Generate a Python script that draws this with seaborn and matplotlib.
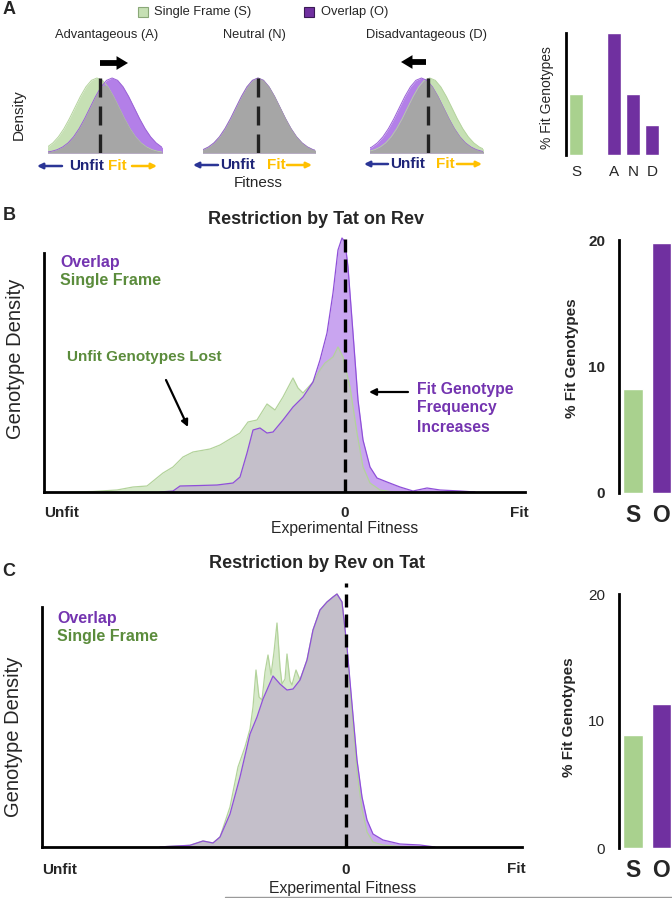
import numpy as np
import matplotlib
matplotlib.use("Agg")
import matplotlib.pyplot as plt
from matplotlib.patches import FancyArrowPatch, Rectangle
from matplotlib.lines import Line2D
import seaborn as sns

# ---------------- data ----------------
# panel A: schematic bell curve, height vs offset (sd units)
bell_x = [-3.0, -2.75, -2.5, -2.25, -2.0, -1.75, -1.5, -1.25, -1.0, -0.75, -0.5, -0.25,
          0.0, 0.25, 0.5, 0.75, 1.0, 1.25, 1.5, 1.75, 2.0, 2.25, 2.5, 2.75, 3.0]
bell_y = [0.011, 0.023, 0.044, 0.080, 0.135, 0.216, 0.325, 0.458, 0.607, 0.755, 0.882, 0.969,
          1.0, 0.969, 0.882, 0.755, 0.607, 0.458, 0.325, 0.216, 0.135, 0.080, 0.044, 0.023, 0.011]
schem_titles = ["Advantageous (A)", "Neutral (N)", "Disadvantageous (D)"]
schem_single_shift = [-0.14, 0.0, 0.08]
schem_overlap_shift = [0.55, 0.0, -0.3]

fit_a_labels = ["S", "A", "N", "D"]
fit_a_vals = [10, 20, 10, 5]

# panel B: Restriction by Tat on Rev (experimental fitness vs density)
b_single_x = [-2.75, -2.52, -2.28, -2.12, -1.98, -1.82, -1.72, -1.62, -1.52, -1.35, -1.25,
              -1.15, -1.05, -0.97, -0.88, -0.78, -0.70, -0.62, -0.52, -0.47, -0.42, -0.32,
              -0.25, -0.20, -0.12, -0.07, -0.02, 0.05, 0.12, 0.18, 0.25, 0.35, 0.45, 0.55]
b_single_y = [0, 0.005, 0.02, 0.05, 0.06, 0.19, 0.25, 0.35, 0.40, 0.43, 0.47,
              0.53, 0.59, 0.70, 0.72, 0.88, 0.82, 0.95, 1.14, 1.04, 0.99, 1.10,
              1.22, 1.29, 1.35, 1.45, 1.35, 1.05, 0.59, 0.25, 0.09, 0.02, 0.005, 0]
b_overlap_x = [-1.85, -1.72, -1.65, -1.45, -1.28, -1.12, -1.05, -0.98, -0.92, -0.85, -0.78,
               -0.72, -0.62, -0.52, -0.42, -0.32, -0.25, -0.18, -0.12, -0.07, -0.03, 0.0,
               0.03, 0.08, 0.13, 0.18, 0.25, 0.32, 0.42, 0.55, 0.68, 0.82, 0.95, 1.15, 1.30]
b_overlap_y = [0, 0.01, 0.06, 0.065, 0.07, 0.09, 0.15, 0.39, 0.62, 0.64, 0.59,
               0.60, 0.72, 0.85, 0.95, 1.10, 1.32, 1.59, 1.99, 2.42, 2.54, 2.50,
               2.25, 1.59, 0.92, 0.52, 0.25, 0.14, 0.10, 0.05, 0.01, 0.04, 0.02, 0.01, 0]
b_bar_labels = ["S", "O"]
b_bar_vals = [8.2, 19.8]

# panel C: Restriction by Rev on Tat
c_single_x = [-1.86, -1.79, -1.56, -1.43, -1.33, -1.26, -1.16, -1.08, -1.01, -0.96, -0.93,
              -0.90, -0.87, -0.84, -0.81, -0.78, -0.75, -0.72, -0.69, -0.66, -0.64, -0.61,
              -0.59, -0.56, -0.54, -0.50, -0.46, -0.39, -0.33, -0.26, -0.19, -0.13, -0.09,
              -0.04, 0.01, 0.06, 0.11, 0.16, 0.21, 0.27, 0.37, 0.54, 0.74]
c_single_y = [0, 0.005, 0.017, 0.06, 0.04, 0.10, 0.40, 0.80, 1.00, 1.18, 1.40,
              1.77, 1.50, 1.47, 1.75, 1.92, 1.72, 1.95, 2.24, 1.80, 1.63, 1.68,
              1.93, 1.66, 1.62, 1.77, 1.67, 1.87, 2.17, 2.37, 2.45, 2.50, 2.53,
              2.45, 1.95, 1.35, 0.75, 0.38, 0.15, 0.05, 0.02, 0.005, 0]
c_overlap_x = [-1.86, -1.79, -1.56, -1.43, -1.33, -1.26, -1.16, -1.06, -0.96, -0.89, -0.83,
               -0.73, -0.66, -0.59, -0.53, -0.46, -0.39, -0.33, -0.26, -0.19, -0.13, -0.09,
               -0.04, 0.01, 0.06, 0.11, 0.16, 0.21, 0.27, 0.37, 0.54, 0.74, 0.89]
c_overlap_y = [0, 0.005, 0.017, 0.06, 0.04, 0.10, 0.33, 0.70, 1.13, 1.30, 1.48,
               1.71, 1.63, 1.57, 1.58, 1.67, 1.87, 2.17, 2.37, 2.45, 2.50, 2.53,
               2.45, 2.00, 1.43, 0.87, 0.50, 0.27, 0.13, 0.07, 0.03, 0.02, 0]
c_bar_labels = ["S", "O"]
c_bar_vals = [8.9, 11.3]

# ---------------- style ----------------
GREEN_BAR = "#a9d18e"
PURPLE_BAR = "#7030a0"
A_PAL = ["#c6e0b4", "#b37fe8", "#a6a6a6", "#b5d49e", "#9a62d6"]
BC_PAL = ["#d6e9ca", "#c9a5f0", "#c4bfca", "#b3d39b", "#8f4fd9"]
OVERLAP_TXT = "#7434b0"
SINGLE_TXT = "#5b8c3c"
UNFIT_BLUE = "#1f2578"
ARROW_BLUE = "#2b3596"
FIT_YELLOW = "#ffc000"

sns.set_style("white")
plt.rcParams["font.family"] = ["Liberation Sans", "DejaVu Sans"]

W, H = 672, 898
fig = plt.figure(figsize=(W / 100, H / 100), dpi=100)


def px_axes(l, t, r, b):
    return fig.add_axes([l / W, 1 - b / H, (r - l) / W, (b - t) / H])


def ftext(x, y, s, **kw):
    kw.setdefault("va", "center")
    kw.setdefault("ha", "center")
    fig.text(x / W, 1 - y / H, s, **kw)


def farrow(x0, y0, x1, y1, color="black", lw=1.5, ms=10, style="-|>"):
    fig.add_artist(FancyArrowPatch((x0 / W, 1 - y0 / H), (x1 / W, 1 - y1 / H),
                                   transform=fig.transFigure, arrowstyle=style,
                                   mutation_scale=ms, lw=lw, color=color,
                                   shrinkA=0, shrinkB=0))


def draw_density(ax, xs, ys, xo, yo, pal, lw=0.8, lines_under=False):
    xs, ys, xo, yo = [np.asarray(v, dtype=float) for v in (xs, ys, xo, yo)]
    grid = np.union1d(xs, xo)
    both = np.minimum(np.interp(grid, xs, ys, left=0, right=0),
                      np.interp(grid, xo, yo, left=0, right=0))
    ax.fill_between(xs, ys, color=pal[0], lw=0, zorder=1)
    ax.fill_between(xo, yo, color=pal[1], lw=0, zorder=1.1)
    # outlines either above the grey overlap (B, C) or hidden under it (A)
    ax.fill_between(grid, both, color=pal[2], lw=0, zorder=1.5 if lines_under else 1.2)
    sns.lineplot(x=xs, y=ys, color=pal[3], lw=lw, ax=ax, zorder=1.3)
    sns.lineplot(x=xo, y=yo, color=pal[4], lw=lw, ax=ax, zorder=1.4)


def style_bar_axes(ax):
    for sp in ["top", "right", "bottom"]:
        ax.spines[sp].set_visible(False)
    ax.spines["left"].set_linewidth(2)
    ax.spines["left"].set_color("black")
    ax.set_xlabel("")
    ax.set_ylabel("")


# ================= panel A =================
ftext(9, 10, "A", fontsize=13, fontweight="bold")
fig.add_artist(Rectangle((138 / W, 1 - 17 / H), 10 / W, 10 / H, transform=fig.transFigure,
                         facecolor="#c6e0b4", edgecolor="#8aa878", lw=0.8))
ftext(154, 12, "Single Frame (S)", fontsize=9.3, ha="left")
fig.add_artist(Rectangle((304 / W, 1 - 17 / H), 10 / W, 10 / H, transform=fig.transFigure,
                         facecolor=PURPLE_BAR, edgecolor="#3a1a55", lw=0.8))
ftext(321, 12, "Overlap (O)", fontsize=9.3, ha="left")

a_boxes = [(48, 162, 100), (203, 315, 258), (370, 483, 428)]
a_title_x = [107, 254, 427]
sig = 22
for i, (l, r, c) in enumerate(a_boxes):
    ax = px_axes(l, 70, r, 153)
    xs = np.array(bell_x) + schem_single_shift[i]
    xo = np.array(bell_x) + schem_overlap_shift[i]
    draw_density(ax, xs, bell_y, xo, bell_y, A_PAL, lw=0.7, lines_under=True)
    ax.plot([0, 0], [0, 1.0], color="#222222", lw=2.4, ls=(0, (5.7, 2.7)), zorder=3)
    ax.set_xlim((l - c) / sig, (r - c) / sig)
    ax.set_ylim(0, 83 / 75)
    ax.axis("off")
    ftext(a_title_x[i], 35, schem_titles[i], fontsize=9.3)

# direction labels under each schematic
dir_layout = [(62, 37, 87, 117, 132, 157, 166),
              (218, 193, 238, 276, 287, 312, 165),
              (388, 364, 408, 445, 457, 482, 164)]
for b0, b1, ux, fx, y0, y1, yy in dir_layout:
    farrow(b0, yy, b1, yy, color=ARROW_BLUE, lw=1.8, ms=8)
    ftext(ux, yy, "Unfit", fontsize=11, fontweight="bold", color=UNFIT_BLUE)
    ftext(fx, yy, "Fit", fontsize=11, fontweight="bold", color=FIT_YELLOW)
    farrow(y0, yy, y1, yy, color=FIT_YELLOW, lw=1.8, ms=8)

# shift arrows
big = "simple,head_width=0.9,head_length=0.75,tail_width=0.38"
farrow(100, 63, 128, 63, style=big, lw=0, ms=11)
farrow(426, 62, 401, 62, style=big, lw=0, ms=11)

ftext(19, 115, "Density", fontsize=11, rotation=90)
ftext(258, 183, "Fitness", fontsize=11)

# bar chart A
ax = px_axes(566, 33, 662, 155)
sns.barplot(x=[0, 2, 3, 4], y=fit_a_vals, hue=fit_a_labels, native_scale=True,
            palette={"S": GREEN_BAR, "A": PURPLE_BAR, "N": PURPLE_BAR, "D": PURPLE_BAR},
            saturation=1, width=0.7, dodge=False, legend=False, ax=ax)
style_bar_axes(ax)
ax.set_xlim(-0.53, 4.53)
ax.set_ylim(0, 20)
ax.set_yticks([])
ax.set_xticks([0, 2, 3, 4])
ax.set_xticklabels(fit_a_labels)
ax.tick_params(axis="x", length=0, labelsize=11, pad=7)
ftext(547, 98, "% Fit Genotypes", fontsize=10, rotation=90)


# ================= panels B and C =================
def main_panel(top, base, left, right, zero_px, xs, ys, xo, yo, spine_top):
    ax = px_axes(left, top, right, base)
    draw_density(ax, xs, ys, xo, yo, BC_PAL, lw=0.9)
    ymax = (base - top) / 100
    ax.set_ylim(0, ymax)
    ax.set_xlim((left - zero_px) / 100, (right - zero_px) / 100)
    ax.set_xticks([])
    ax.set_yticks([])
    for sp in ["top", "right"]:
        ax.spines[sp].set_visible(False)
    for sp in ["left", "bottom"]:
        ax.spines[sp].set_linewidth(2)
        ax.spines[sp].set_color("black")
    ax.spines["left"].set_bounds(0, (base - spine_top) / 100)
    return ax


def bar_panel(top, base, labels, vals, bold_ticks):
    ax = px_axes(619, top, 672, base)
    sns.barplot(x=labels, y=vals, hue=labels,
                palette={"S": GREEN_BAR, "O": PURPLE_BAR},
                saturation=1, width=0.68, dodge=False, legend=False, ax=ax)
    style_bar_axes(ax)
    ax.set_xlim(-0.5, 1.39)
    ax.set_ylim(0, 20)
    ax.set_yticks([0, 10, 20])
    ax.tick_params(axis="y", length=0, labelsize=11, pad=10)
    ax.tick_params(axis="x", length=0, labelsize=16.5, pad=8)
    for t in ax.get_xticklabels():
        t.set_fontweight("bold")
    if bold_ticks:
        for t in ax.get_yticklabels():
            t.set_fontweight("bold")
    return ax


# ---- B ----
ftext(9, 216, "B", fontsize=13, fontweight="bold")
ftext(316, 220, "Restriction by Tat on Rev", fontsize=13, fontweight="bold")
ax = main_panel(236, 492, 44, 525, 345, b_single_x, b_single_y, b_overlap_x, b_overlap_y, 253)
ax.plot([0, 0], [0, 2.54], color="black", lw=2.4, ls=(0, (3.9, 2.1)), zorder=3)
ftext(60, 263, "Overlap", fontsize=11.5, fontweight="bold", color=OVERLAP_TXT, ha="left")
ftext(60, 281, "Single Frame", fontsize=11.5, fontweight="bold", color=SINGLE_TXT, ha="left")
ftext(67, 357, "Unfit Genotypes Lost", fontsize=11, fontweight="bold", color=SINGLE_TXT, ha="left")
farrow(166, 380, 188, 427, lw=1.6, ms=10)
farrow(408, 392, 369, 392, lw=1.6, ms=10)
for txt, yy in zip(["Fit Genotype", "Frequency", "Increases"], [389, 408, 428]):
    ftext(417, yy, txt, fontsize=11.3, fontweight="bold", color=OVERLAP_TXT, ha="left")
ftext(44, 513, "Unfit", fontsize=11, fontweight="bold", ha="left")
ftext(345, 513, "0", fontsize=11, fontweight="bold")
ftext(519, 513, "Fit", fontsize=11, fontweight="bold")
ftext(345, 529, "Experimental Fitness", fontsize=11.3)
ftext(16, 359, "Genotype Density", fontsize=14.5, rotation=90)
bar_panel(240, 493, b_bar_labels, b_bar_vals, True)
ftext(572, 358, "% Fit Genotypes", fontsize=11, fontweight="bold", rotation=90)

# ---- C ----
ftext(9, 572, "C", fontsize=13, fontweight="bold")
ftext(317, 563, "Restriction by Rev on Tat", fontsize=13, fontweight="bold")
ax = main_panel(580, 847, 42, 522, 346, c_single_x, c_single_y, c_overlap_x, c_overlap_y, 607)
ax.plot([0, 0], [0, 2.64], color="black", lw=2.4, ls=(0, (3.9, 2.1)), zorder=3)
ftext(57, 618, "Overlap", fontsize=11.5, fontweight="bold", color=OVERLAP_TXT, ha="left")
ftext(57, 637, "Single Frame", fontsize=11.5, fontweight="bold", color=SINGLE_TXT, ha="left")
ftext(42, 870, "Unfit", fontsize=11, fontweight="bold", ha="left")
ftext(346, 870, "0", fontsize=11, fontweight="bold")
ftext(516, 869, "Fit", fontsize=11, fontweight="bold")
ftext(343, 888, "Experimental Fitness", fontsize=11.3)
ftext(14, 737, "Genotype Density", fontsize=14.5, rotation=90)
bar_panel(594, 848, c_bar_labels, c_bar_vals, False)
ftext(569, 717, "% Fit Genotypes", fontsize=11, fontweight="bold", rotation=90)

fig.add_artist(Line2D([225 / W, 1.0], [1 - 897 / H, 1 - 897 / H], transform=fig.transFigure,
                      color="#9a9a9a", lw=1))

fig.savefig("out.png", dpi=100)
